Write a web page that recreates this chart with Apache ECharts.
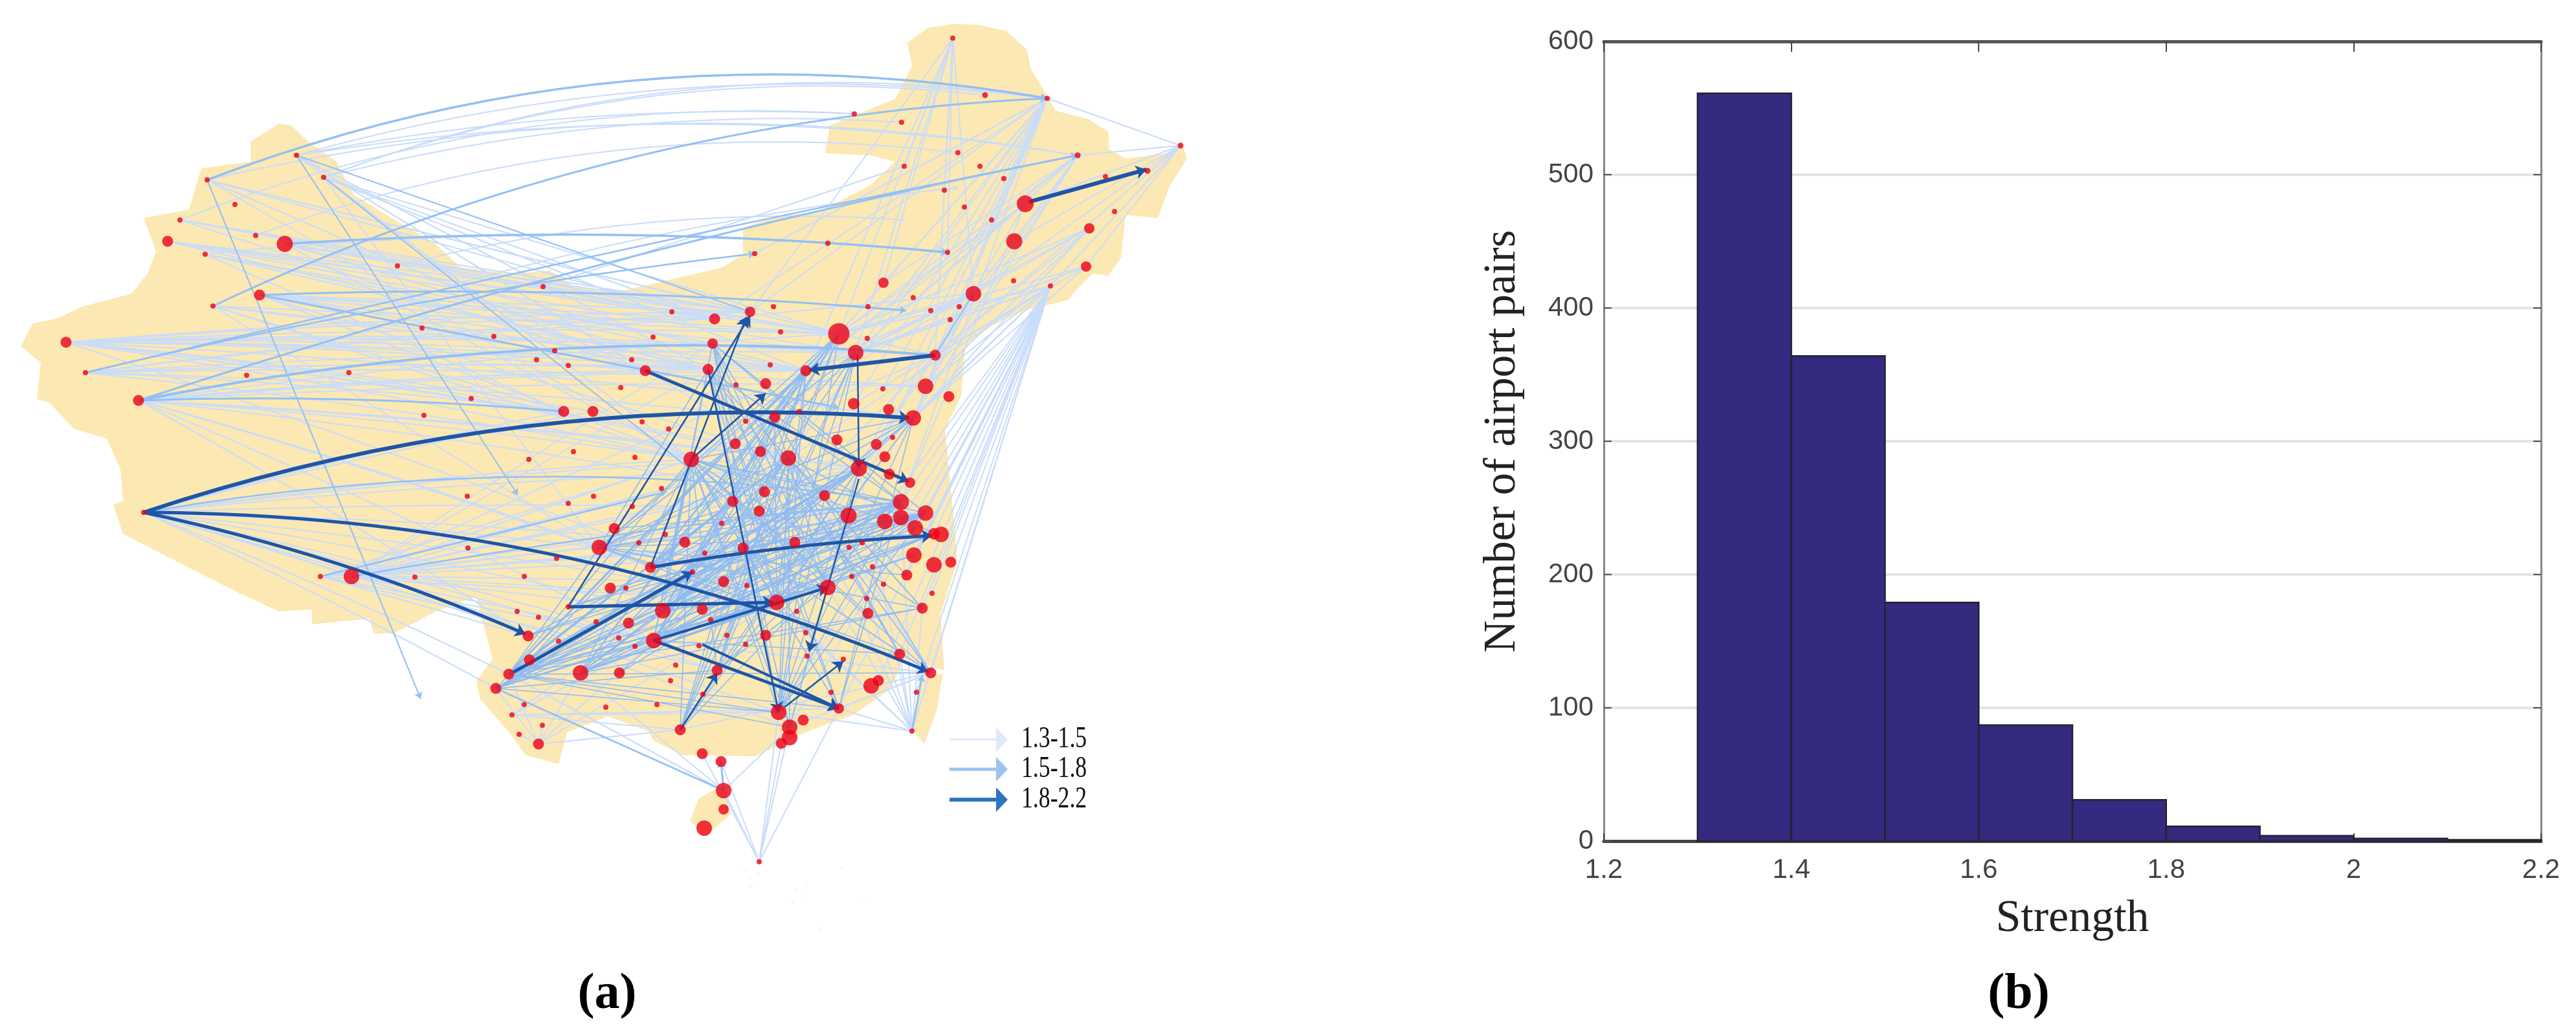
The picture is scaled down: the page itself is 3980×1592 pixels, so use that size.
<!DOCTYPE html>
<html><head><meta charset="utf-8">
<style>html,body{margin:0;background:#fff}#c{width:3980px;height:1592px}</style>
<script src="https://cdn.jsdelivr.net/npm/echarts@6/dist/echarts.min.js"></script>
</head><body><div id="c"></div>
<script>
// ---------- histogram (b) ----------
const binEdges = [1.3,1.4,1.5,1.6,1.7,1.8,1.9,2.0,2.1,2.2];
const pairCounts = [561,364,179,87,31,11,4,2,1];
const yTicks = [0,100,200,300,400,500,600];

// ---------- map (a), in map units ----------
const mainland = [[1472,37],[1510,38],[1555,48],[1586,76],[1593,107],[1618,148],[1631,171],[1681,184],[1713,204],[1713,230],[1739,245],[1802,237],[1827,224],[1834,245],[1808,286],[1789,337],[1739,332],[1732,398],[1713,426],[1688,423],[1662,449],[1650,464],[1586,479],[1535,502],[1497,530],[1491,541],[1485,612],[1460,663],[1478,848],[1478,871],[1453,950],[1459,1036],[1396,1019],[1377,1064],[1320,1104],[1244,1132],[1167,1169],[1053,1167],[1009,1144],[1002,1130],[939,1107],[876,1132],[863,1181],[812,1167],[787,1132],[742,1081],[736,1053],[761,1019],[736,922],[673,945],[609,979],[577,979],[571,956],[482,965],[482,942],[431,945],[368,916],[279,871],[190,825],[175,780],[190,774],[184,700],[190,734],[165,678],[114,663],[76,622],[57,617],[63,561],[32,535],[51,500],[89,492],[127,474],[203,454],[228,423],[241,388],[222,337],[292,324],[311,260],[387,250],[387,219],[431,191],[450,194],[476,219],[520,250],[546,301],[622,347],[673,377],[711,413],[787,423],[850,418],[888,444],[964,449],[1117,413],[1148,393],[1148,352],[1193,337],[1269,326],[1345,286],[1383,250],[1345,240],[1275,237],[1282,194],[1383,153],[1409,102],[1402,66],[1434,43]];
const hainan = [[1079,1235],[1117,1212],[1129,1258],[1091,1292],[1066,1269]];
const taiwan = [[1428,1044],[1457,1041],[1447,1098],[1428,1150],[1409,1127]];
const islets = [[1150,1345],[1158,1358],[1172,1350],[1160,1370],[1230,1375],[1240,1385],[1245,1365],[1225,1395],[1300,1340],[1335,1390],[1267,1435]];

const airports = [[222,792,8],[1472,59,8],[1522,147,9],[1618,152,8],[1320,176,8],[1393,189,8],[1824,225,9],[1665,240,9],[1480,236,8],[1514,257,8],[1397,257,8],[1773,264,9],[1708,273,8],[1551,276,8],[1459,294,8],[1584,315,26],[1490,320,8],[1722,327,8],[1532,340,8],[1683,353,16],[1567,373,25],[1279,376,8],[1464,390,8],[1166,392,8],[1678,412,16],[1365,437,16],[1566,434,8],[1504,454,24],[1623,442,8],[1411,460,8],[1482,474,8],[1341,474,8],[1438,480,8],[1468,494,8],[1195,474,8],[1159,482,16],[1038,482,8],[1104,493,17],[1296,516,33],[1340,523,8],[1206,513,8],[1009,521,8],[1101,531,16],[1322,545,24],[1445,549,17],[997,573,17],[1094,571,17],[1245,573,17],[1190,564,8],[976,556,8],[878,565,8],[857,542,8],[829,556,8],[763,520,8],[652,507,8],[839,443,8],[614,411,8],[458,240,8],[500,274,8],[320,278,8],[363,316,8],[278,340,8],[259,373,17],[440,377,25],[395,364,8],[317,393,8],[401,456,17],[329,473,8],[102,529,17],[132,576,8],[214,619,17],[381,580,8],[539,576,8],[728,616,8],[655,642,8],[871,636,17],[916,636,17],[1137,595,8],[1183,593,17],[959,599,8],[1364,601,8],[1430,597,24],[1466,613,17],[1319,624,18],[1373,633,17],[1197,645,17],[1235,636,8],[1411,646,24],[1152,651,8],[992,652,8],[1033,663,8],[1293,680,17],[1136,686,17],[1354,687,17],[1379,676,8],[1175,698,17],[1218,708,24],[1068,710,24],[1367,706,17],[886,698,8],[817,710,8],[981,707,8],[1327,724,25],[1374,733,17],[1406,746,16],[1022,755,8],[1181,760,17],[1274,766,17],[1132,775,17],[917,767,8],[722,767,8],[878,778,8],[977,783,8],[1173,790,17],[1392,776,25],[1392,800,24],[1430,793,24],[1311,797,25],[1367,806,24],[1414,816,24],[1443,825,18],[1454,826,24],[1115,809,8],[949,817,17],[1028,826,8],[926,846,24],[987,839,8],[1058,838,17],[1228,838,17],[1089,855,8],[1148,847,17],[723,847,8],[860,863,8],[1332,839,8],[1312,846,8],[1412,858,24],[1469,869,17],[1443,873,24],[1005,877,17],[1070,884,8],[1348,876,8],[810,891,8],[1401,889,17],[641,892,8],[543,891,24],[495,891,8],[1118,899,17],[1316,891,8],[1365,903,8],[1154,905,8],[943,909,17],[967,909,8],[1279,908,24],[1440,917,8],[1339,925,8],[1200,931,24],[878,938,8],[1024,944,24],[1085,942,17],[1425,940,17],[1231,945,8],[1341,948,17],[799,945,8],[832,954,8],[921,961,8],[1098,958,8],[971,963,17],[1245,978,8],[816,983,17],[1123,982,8],[1183,982,17],[1010,990,24],[956,986,8],[863,991,8],[981,999,8],[1152,996,8],[1080,998,8],[1247,1014,8],[1390,1011,17],[1303,1019,8],[818,1020,17],[1438,1040,17],[1108,1036,17],[1044,1028,8],[786,1042,17],[897,1040,24],[957,1040,17],[1036,1052,8],[1357,1052,17],[1346,1060,24],[766,1064,17],[1416,1070,8],[1284,1070,8],[1086,1073,8],[1015,1089,8],[810,1089,8],[936,1093,8],[1296,1095,16],[1203,1101,24],[791,1105,8],[1241,1113,17],[838,1121,8],[1051,1128,17],[1220,1124,24],[1409,1130,8],[802,1135,8],[1220,1140,24],[1207,1149,17],[832,1150,17],[1085,1165,17],[1114,1177,17],[1118,1222,24],[1118,1251,16],[1088,1280,24],[1173,1332,8]];

// strongest routes: [x1,y1,x2,y2,curve,width]
const darkRoutes = [[222,792,1405,646,0.10,6],[222,792,1434,1038,0.10,5],[222,792,812,980,0.05,5],[997,573,1404,744,0,5],[1445,549,1250,572,0,6],[1590,312,1771,262,0,6],[1005,877,1440,828,0.03,5],[878,938,1195,931,0,5],[1010,990,1279,908,0,4],[1010,990,1296,1095,0,5],[1085,996,1296,1095,0,4],[793,1039,1070,884,0,5],[878,938,1159,488,0,2.5],[1005,877,1153,490,0,2.5],[1094,571,1203,1101,0,2.5],[1068,710,1183,608,0,2.5],[1325,548,1327,724,0,2.5],[1327,740,1250,1007,0,2.5],[1051,1128,1108,1040,0,2.5],[1212,1093,1303,1022,0,2.5]];

// visibly thicker routes and long arcs
const mediumRoutes = [[320,278,1618,152,0.137,3.5],[329,473,1618,152,0.10,3],[214,619,1665,240,0.03,3],[440,377,1464,390,0.04,3.5],[214,619,1445,549,0.07,4],[214,619,871,636,0.03,3],[132,576,1166,392,0.03,2.5],[132,576,1665,240,0.01,2.5],[401,456,1400,480,0.03,3],[401,456,1296,630,0,3],[458,240,800,765,0,2],[458,240,1159,482,0,2],[500,274,1160,800,0,2],[320,278,650,1080,0,2],[222,792,1392,776,0.08,2.5],[543,891,1392,776,0.02,2.5],[495,891,1030,760,0,2.5],[1118,1222,766,1064,0,2.5],[1445,549,1504,454,0,2],[1409,1130,1425,1044,0,3],[1118,1222,1114,1177,0,3]];
const lightArcs = [[458,240,1618,152,0.10],[458,240,1320,176,0.06],[500,274,1393,189,0.08],[458,240,1665,240,0.08],[320,278,1665,240,0.10],[500,274,1522,147,0.12],[500,274,1618,152,0.13],[395,364,1480,236,0.12],[278,340,1320,176,0.11],[614,411,1397,340,0.08],[839,443,1397,257,0],[317,393,1464,390,0.05],[700,440,1480,290,0.04]];

// fans: [hubX,hubY,curve,[targetX,targetY,...]]
const lightFans = [
[102,529,0.02,[1159,482,1104,493,1296,516,1101,531,1245,573,1094,571,1322,545,997,573,857,542,871,636,916,636,1068,710,1218,708,1411,646,1445,549,1327,724,1200,931]],
[132,576,0.02,[1104,493,1159,482,1322,545,1094,571,1245,573,1430,597,871,636,1068,710,1197,645]],
[214,619,0.02,[1296,516,1094,571,997,573,1245,573,1430,597,1068,710,926,846,1218,708,1005,877,1010,990,816,983,1181,760,1327,724]],
[222,792,0.02,[916,636,871,636,1068,710,1218,708,1327,724,1148,847,926,846,1200,931,1024,944,1010,990,786,1042,766,1064,543,891,1108,1036,1203,1101,1220,1124,1430,793]],
[259,373,0,[1159,482,1104,493,1101,531,1296,516,1322,545,1094,571]],
[278,340,0,[1104,493,1159,482,1296,516,997,573]],
[317,393,0,[1101,531,1094,571,1245,573,871,636]],
[401,456,0,[1104,493,1159,482,1094,571,1245,573,1296,516,1322,545,1068,710,1218,708]],
[329,473,0,[871,636,1094,571,1068,710,1245,573,1296,516,926,846]],
[440,377,0,[1104,493,1159,482,1094,571,1245,573,1296,516,1068,710]],
[320,278,0,[1068,710,997,573,1104,493,1159,482,1296,516]],
[458,240,0,[997,573,1068,710,1094,571,1218,708]],
[500,274,0,[1068,710,1104,493,1245,573,926,846,1296,516]],
[543,891,0.01,[1430,793,1228,838,1148,847,1200,931,1068,710,1218,708,1327,724,1024,944,1010,990,1279,908,1181,760,1101,531,1094,571,1245,573,1412,858]],
[495,891,0,[1068,710,1218,708,926,846,1148,847,1200,931,1392,776,1010,990,816,983,1108,1036]],
[1618,152,0,[1296,516,1245,573,1322,545,1445,549,1364,601,1319,624,1430,597,1411,646,1104,493,1159,482,1218,708,1327,724,1392,776,1311,797,1532,340,1166,392]],
[1472,59,0,[1397,257,1365,437,1296,516,1322,545,1159,482,1464,390,1445,549,1504,454,1459,294,1245,573]],
[1665,240,0,[1504,454,1365,437,1296,516,1322,545,1245,573,1411,646,1445,549,1430,597]],
[1824,225,0,[1623,442,1678,412,1618,152,1665,240,1504,454,1445,549,1584,315,1567,373]],
[1623,442,0,[1296,516,1322,545,1245,573,1445,549,1430,597,1411,646,1392,776,1430,793,1443,825,1412,858,1401,889,1425,940,1390,1011,1438,1040,1357,1052,1296,1095,1220,1124,1409,1130,1319,624,1218,708,1327,724,1469,869,1440,917,1416,1070,1203,1101,1279,908,1341,948]],
[1678,412,0,[1296,516,1322,545,1445,549,1411,646,1245,573]],
[1683,353,0,[1322,545,1296,516,1445,549,1430,597,1504,454,1411,646]],
[1584,315,0,[1296,516,1322,545,1445,549,1245,573,1392,776]],
[1504,454,0,[1296,516,1322,545,1245,573,1104,493,1411,646,1430,597,1068,710,1327,724]],
[1445,549,0,[1010,990,1245,573,1296,516,1068,710,1200,931]],
[1173,1332,0,[1085,1165,1114,1177,1220,1124,1207,1149,1296,1095,1203,1101,1118,1222]],
[1409,1130,0,[1296,1095,1203,1101,1390,1011,1425,940,1339,925,1279,908,1200,931,1218,708,1392,776,1327,724,1245,978]],
[1438,1040,0,[1010,990,1148,847,1218,708,1296,1095,1220,1124,1051,1128]],
[1118,1222,0,[897,1040,786,1042,1220,1124]],
[832,1150,0,[766,1064,786,1042,838,1121,802,1135,1010,990,897,1040,1051,1128,1200,931]],
[791,1105,0,[1148,847,1203,1101,1010,990,1296,1095,1051,1128]]
];
const webFans = [
[1068,710,0,[1392,776,1430,793,1311,797,1414,816,1279,908,1200,931,1341,948,1425,940,1438,1040,1296,1095,1203,1101,1220,1124,1108,1036,1051,1128,1005,877,1010,990,897,1040,1024,944,1245,978]],
[1218,708,0,[1005,877,926,846,1010,990,1024,944,971,963,897,1040,1108,1036,1051,1128,1220,1124,1203,1101,818,1020,786,1042,1390,1011,1425,940,1443,825,1401,889]],
[1327,724,0,[926,846,1005,877,1024,944,1010,990,971,963,897,1040,957,1040,1108,1036,1051,1128,1203,1101,1220,1124,816,983,818,1020,786,1042,766,1064]],
[1392,776,0,[926,846,949,817,1005,877,1024,944,1010,990,1108,1036,1203,1101,1051,1128,878,938,816,983,897,1040,957,1040,1296,1095]],
[1430,793,0,[926,846,1005,877,943,909,1024,944,1010,990,878,938,816,983,897,1040,1108,1036,1203,1101]],
[1411,646,0,[926,846,1005,877,1010,990,1024,944,897,1040,1051,1128,1203,1101,1200,931,1068,710,1296,1095]],
[1094,571,0,[1200,931,1279,908,1392,776,1010,990,1425,940,1203,1101,1220,1124,1296,1095,1438,1040,926,846]],
[1245,573,0,[926,846,1005,877,1010,990,1200,931,1024,944,1203,1101,1051,1128,1108,1036,897,1040,786,1042,766,1064]],
[1296,516,0,[926,846,1005,877,1010,990,1024,944,1108,1036,1203,1101,1051,1128,897,1040,818,1020,786,1042]],
[1101,531,0,[1392,776,1430,793,1200,931,1279,908,1203,1101,1010,990,1390,1011,1296,1095]],
[1322,545,0,[1005,877,926,846,1010,990,1200,931,1108,1036,1203,1101,1051,1128]],
[1197,645,0,[1010,990,1024,944,1200,931,1279,908,1438,1040,1051,1128]],
[926,846,0,[1200,931,1279,908,1401,889,1443,825,1425,940,1390,1011]],
[1148,847,0,[1010,990,897,1040,1279,908,1430,793,1203,1101,786,1042,1438,1040]],
[1200,931,0,[1010,990,897,1040,1392,776,1430,793,786,1042,1443,825]],
[1279,908,0,[1010,990,897,1040,1024,944,786,1042,766,1064,1220,1124]],
[1010,990,0,[1430,793,1443,825,1412,858,1390,1011]],
[897,1040,0,[1412,858,1443,825,1430,793,1425,940]],
[786,1042,0,[1010,990,1148,847,1200,931,1279,908,1392,776,1430,793,1443,825,1327,724,1296,1095,1203,1101,1438,1040,1220,1124,1425,940,1218,708,1068,710,926,846]],
[766,1064,0,[1024,944,1148,847,1200,931,1392,776,1414,816,1327,724,1203,1101,1311,797,1412,858,1108,1036]]
];

// ---------- legend ----------
const legendLabels = ['1.3-1.5','1.5-1.8','1.8-2.2'];
const legendColors = ['#dfeaf7','#9cc4ea','#2e75bd'];
const legendWidths = [3,5,6];

// ---------- helpers ----------
const fanLines = fans => fans.flatMap(f => {
  const out = [];
  for (let i = 0; i < f[3].length; i += 2)
    out.push({coords: [[f[0], f[1]], [f[3][i], f[3][i+1]]], lineStyle: {curveness: f[2]}});
  return out;
});
const routeLines = rs => rs.map(r => ({coords: [[r[0], r[1]], [r[2], r[3]]], lineStyle: {curveness: r[4] || 0, width: r[5] || undefined}}));
const landShapes = [mainland, hainan, taiwan];
const bins = pairCounts.map((v, i) => [binEdges[i], binEdges[i+1], v]);

const mapSeries = (name, data, color, width, z, arrow) => ({
  name, type: 'lines', coordinateSystem: 'cartesian2d', xAxisIndex: 0, yAxisIndex: 0, z,
  silent: true, symbol: ['none', 'arrow'], symbolSize: arrow, data,
  lineStyle: {color, width, opacity: 1}
});

const serif = '"Liberation Serif"', sans = '"Liberation Sans"';
const chart = echarts.init(document.getElementById('c'));
const legendGraphics = legendLabels.flatMap((t, i) => {
  const y = [1143, 1189, 1236][i];
  return [
    {type:'line', z:20, shape:{x1:1467,y1:y,x2:1540,y2:y}, style:{stroke:legendColors[i], lineWidth:legendWidths[i]}},
    {type:'polygon', z:20, shape:{points:[[1539,y-19],[1557,y],[1539,y+19]]}, style:{fill:legendColors[i]}},
    {type:'text', z:20, x:1578, y:y, scaleX:0.76, style:{text:t, font:'47px '+serif, fill:'#111', verticalAlign:'middle', textVerticalAlign:'middle'}}
  ];
});

chart.setOption({
  animation: false,
  backgroundColor: '#fff',
  title: [
    {text:'{n|(}{b|a}{n|)}', left:933, top:1494, textAlign:'center', textStyle:{rich:{n:{fontFamily:serif,fontSize:78,color:'#000'},b:{fontFamily:serif,fontSize:78,fontWeight:'bold',color:'#000'}}}},
    {text:'{n|(}{b|b}{n|)}', left:3114, top:1494, textAlign:'center', textStyle:{rich:{n:{fontFamily:serif,fontSize:78,color:'#000'},b:{fontFamily:serif,fontSize:78,fontWeight:'bold',color:'#000'}}}}
  ],
  grid: [
    {left:0, top:0, width:2000, height:1592},
    {left:2478, top:64, width:1448, height:1236}
  ],
  xAxis: [
    {type:'value', gridIndex:0, min:0, max:2000, show:false},
    {type:'value', gridIndex:1, min:1.2, max:2.2, interval:0.2,
     name:'Strength', nameLocation:'middle', nameGap:86, nameTextStyle:{fontFamily:serif,fontSize:70,color:'#222'},
     axisLine:{onZero:false,lineStyle:{color:'#444',width:5}}, axisTick:{inside:true,length:12,lineStyle:{color:'#444',width:2}},
     axisLabel:{fontFamily:sans,fontSize:42,color:'#444',margin:24}, splitLine:{show:false}},
    {type:'value', gridIndex:1, position:'top', min:1.2, max:2.2, interval:0.2,
     axisLine:{onZero:false,lineStyle:{color:'#555',width:5}}, axisTick:{inside:true,length:16,lineStyle:{color:'#444',width:2}},
     axisLabel:{show:false}, splitLine:{show:false}}
  ],
  yAxis: [
    {type:'value', gridIndex:0, min:0, max:1592, inverse:true, show:false},
    {type:'value', gridIndex:1, min:0, max:600, interval:100,
     name:'Number of airport pairs', nameLocation:'middle', nameGap:122, nameRotate:90, nameTextStyle:{fontFamily:serif,fontSize:69,color:'#222'},
     axisLine:{onZero:false,lineStyle:{color:'#888',width:3}}, axisTick:{inside:true,length:12,lineStyle:{color:'#555',width:2}},
     axisLabel:{fontFamily:sans,fontSize:42,color:'#444',margin:16,formatter:v=>yTicks.includes(v)?String(v):''},
     splitLine:{show:true,lineStyle:{color:'#e4e4e4',width:4}}},
    {type:'value', gridIndex:1, position:'right', min:0, max:600, interval:100,
     axisLine:{onZero:false,lineStyle:{color:'#888',width:3}}, axisTick:{inside:true,length:12,lineStyle:{color:'#555',width:2}},
     axisLabel:{show:false}, splitLine:{show:false}}
  ],
  series: [
    {name:'land', type:'custom', coordinateSystem:'cartesian2d', xAxisIndex:0, yAxisIndex:0, z:1, silent:true, clip:false,
     data: landShapes.map((s,i)=>[s[0][0], s[0][1], i]),
     renderItem:(p,api)=>({type:'polygon', shape:{points:landShapes[p.dataIndex].map(c=>api.coord(c))}, style:{fill:'#fce8b2'}})},
    {name:'islets', type:'scatter', xAxisIndex:0, yAxisIndex:0, z:1, silent:true, symbolSize:4, itemStyle:{color:'#fdf2cf'}, data:islets},
    mapSeries('strength 1.3-1.5', fanLines(lightFans).concat(routeLines(lightArcs)), '#c9dcfa', 2, 2, 7),
    mapSeries('strength 1.5-1.8 web', fanLines(webFans), '#8dbbf5', 1.6, 3, 6),
    mapSeries('strength 1.5-1.8', routeLines(mediumRoutes), '#93c0f4', 3, 4, 10),
    mapSeries('strength 1.8-2.2', routeLines(darkRoutes), '#1e55a6', 4, 5, 16),
    {name:'airports', type:'scatter', xAxisIndex:0, yAxisIndex:0, z:6, silent:true, data:airports,
     symbolSize:v=>v[2], itemStyle:{color:'#ec0014'}},
    {name:'pairs', type:'custom', coordinateSystem:'cartesian2d', xAxisIndex:1, yAxisIndex:1, z:3, silent:true, clip:false,
     data:bins, encode:{x:[0,1],y:2},
     renderItem:(p,api)=>{
       const a=api.coord([api.value(0),api.value(2)]), b=api.coord([api.value(1),0]);
       return {type:'rect', shape:{x:a[0],y:a[1],width:b[0]-a[0],height:b[1]-a[1]}, style:{fill:'#342a80',stroke:'#26222f',lineWidth:2.5}};
     }}
  ],
  graphic: legendGraphics
});
</script></body></html>
